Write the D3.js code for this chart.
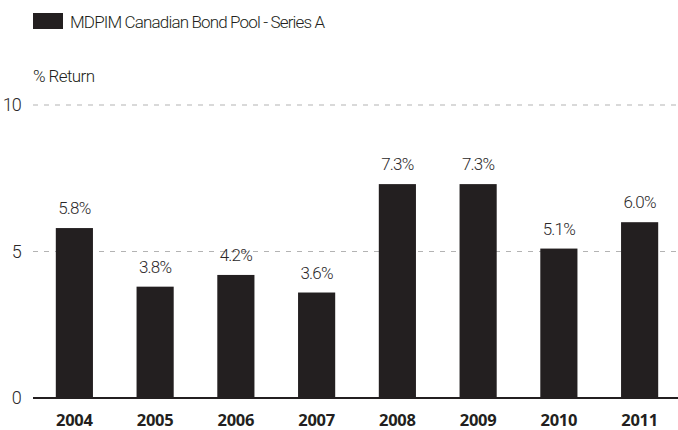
<!DOCTYPE html>
<html>
<script src='https://d3js.org/d3.v7.min.js'></script>
<style>
  html, body {
    margin: 0;
    background-color: #ffffff;
  }
  text {
    fill: #231f20;
  }
  .thin {
    font-family: Roboto, 'Liberation Sans', sans-serif;
    font-weight: 300;
    font-size: 17px;
    fill: #2b2829;
  }
  .year {
    font-family: 'Open Sans', sans-serif;
    font-weight: 700;
    font-size: 16.5px;
    letter-spacing: -0.3px;
  }
</style>
<body>
<div id="vis"></div>
</body>
<script>
// data
var years = ['2004', '2005', '2006', '2007', '2008', '2009', '2010', '2011'];
var returns = [5.8, 3.8, 4.2, 3.6, 7.3, 7.3, 5.1, 6.0];
var yTicks = [0, 5, 10];
var seriesName = 'MDPIM Canadian Bond Pool - Series A';

var width = 678;
var height = 430;

var svg = d3.select('#vis')
    .append('svg')
    .attr('width', width)
    .attr('height', height);

var x_scale = d3.scaleBand()
    .domain(years)
    .range([34, 680])
    .paddingInner(0.54)
    .paddingOuter(0.27);

var y_scale = d3.scaleLinear()
    .domain([0, 10])
    .range([398, 105]);

// legend
svg.append('rect')
    .attr('x', 33)
    .attr('y', 13)
    .attr('width', 30)
    .attr('height', 16)
    .attr('fill', '#231f20');

svg.append('text')
    .attr('class', 'thin')
    .attr('x', 70)
    .attr('y', 28)
    .style('fill', '#231f20')
    .style('letter-spacing', '-0.85px')
    .text(seriesName);

svg.append('text')
    .attr('class', 'thin')
    .attr('x', 33)
    .attr('y', 82)
    .style('fill', '#231f20')
    .style('letter-spacing', '-0.6px')
    .text('% Return');

// grid lines (dashed) and zero line
svg.selectAll('.grid')
    .data(yTicks.filter(function(d) { return d > 0; }))
    .enter()
    .append('line')
    .attr('class', 'grid')
    .attr('x1', 33)
    .attr('x2', width)
    .attr('y1', function(d) { return y_scale(d); })
    .attr('y2', function(d) { return y_scale(d); })
    .attr('stroke', '#b3b3b3')
    .attr('stroke-width', 1.2)
    .attr('stroke-dasharray', '5,6');

svg.selectAll('.tick-label')
    .data(yTicks)
    .enter()
    .append('text')
    .attr('class', 'thin tick-label')
    .attr('x', 21)
    .attr('y', function(d) { return y_scale(d); })
    .attr('dy', '0.35em')
    .attr('text-anchor', 'end')
    .style('font-size', '18px')
    .style('letter-spacing', '-0.8px')
    .text(function(d) { return d; });

// bars
var data = years.map(function(y, i) { return { year: y, value: returns[i] }; });

svg.selectAll('.bar')
    .data(data)
    .enter()
    .append('rect')
    .attr('class', 'bar')
    .attr('x', function(d) { return x_scale(d.year); })
    .attr('width', x_scale.bandwidth())
    .attr('y', function(d) { return y_scale(d.value); })
    .attr('height', function(d) { return y_scale(0) - y_scale(d.value); })
    .attr('fill', '#231f20');

svg.append('line')
    .attr('x1', 33)
    .attr('x2', width)
    .attr('y1', y_scale(0))
    .attr('y2', y_scale(0))
    .attr('stroke', '#231f20')
    .attr('stroke-width', 2);

// value labels
svg.selectAll('.label')
    .data(data)
    .enter()
    .append('text')
    .attr('class', 'thin label')
    .attr('x', function(d) { return x_scale(d.year) + x_scale.bandwidth() / 2; })
    .attr('y', function(d) { return y_scale(d.value) - 14; })
    .attr('text-anchor', 'middle')
    .style('letter-spacing', '-0.8px')
    .text(function(d) { return d.value.toFixed(1) + '%'; });

// year labels
svg.selectAll('.year')
    .data(years)
    .enter()
    .append('text')
    .attr('class', 'year')
    .attr('x', function(d) { return x_scale(d) + x_scale.bandwidth() / 2; })
    .attr('y', 426)
    .attr('text-anchor', 'middle')
    .text(function(d) { return d; });
</script>
</html>
